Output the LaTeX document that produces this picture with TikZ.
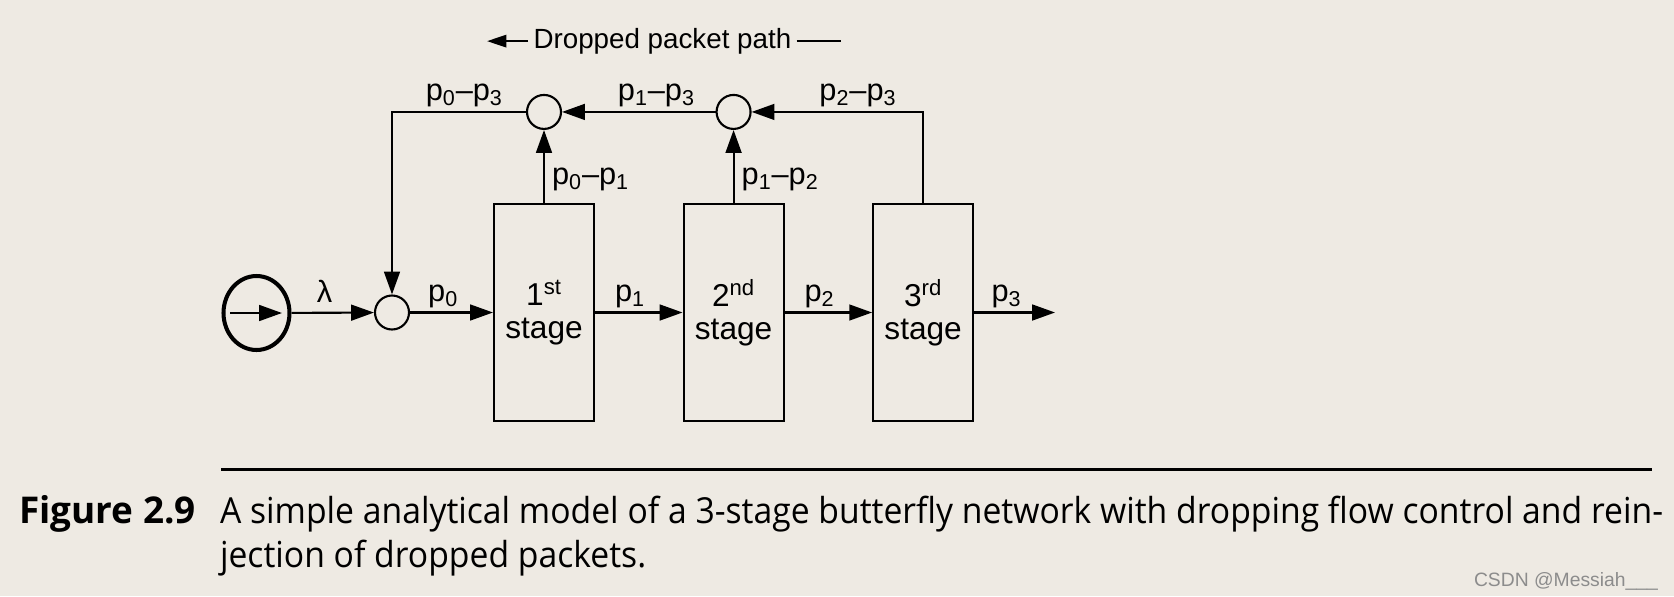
\documentclass[tikz,border=0pt]{standalone}
\usepackage{fontspec}
\setmainfont{Liberation Sans}
\newfontfamily\capfont[FakeStretch=0.94]{Open Sans}
\newfontfamily\figfont{Open Sans}
\usetikzlibrary{arrows.meta,positioning,shapes.geometric}
\definecolor{paper}{RGB}{238,234,227}

\begin{document}
\begin{tikzpicture}[x=0.02cm,y=-0.02cm,line width=1.2pt,
    arr/.style={-{Triangle[length=13pt,width=9pt]}},
    smallarr/.style={-{Triangle[length=11pt,width=7pt]}},
    stagebox/.style={draw,rectangle,minimum width=2cm,minimum height=4.34cm,
      align=center,inner sep=0pt,font=\fontsize{18}{19}\selectfont},
    junc/.style={draw,circle,minimum size=0.68cm,inner sep=0pt},
    lbl/.style={inner sep=2pt,font=\fontsize{17.5}{19}\selectfont}]
\useasboundingbox[fill=paper] (0,0) rectangle (1674,596);

% source and merging point
  \node[draw,ellipse,line width=2.3pt,minimum width=1.32cm,
        minimum height=1.48cm,inner sep=0pt]  (src) at (256.5,313) {};
  \draw[arr] ([xshift=-0.53cm]src.center) -- ([xshift=0.51cm]src.center);
  \node[junc]      (j0) at (392,312.5)        {};

% the three stages
  \node[stagebox]  (s1) at (544,312.5)        {1\textsuperscript{st}\\stage};
  \node[stagebox]  (s2) [right=1.75cm of s1]  {2\textsuperscript{nd}\\stage};
  \node[stagebox]  (s3) [right=1.75cm of s2]  {3\textsuperscript{rd}\\stage};
  \coordinate      (out) at (1055,312.5);

% merging points of the dropped packets
  \node[junc]      (j1) [above=1.46cm of s1]  {};
  \node[junc]      (j2) [above=1.46cm of s2]  {};

% packets going forward
  \draw[arr] (src) -- node[lbl,above=3pt,pos=0.4] (lam) {λ} (j0);
  \draw[arr] (j0) -- node[lbl,above,pos=0.4] (lp0) {p\textsubscript{0}} (s1);
  \draw[arr] (s1) -- node[lbl,above,pos=0.4] (lp1) {p\textsubscript{1}} (s2);
  \draw[arr] (s2) -- node[lbl,above,pos=0.4] (lp2) {p\textsubscript{2}} (s3);
  \draw[arr] (s3) -- node[lbl,above,pos=0.4] (lp3) {p\textsubscript{3}} (out);

% packets dropped and sent back
  \draw[arr] (s1) -- node[lbl,right=2pt,pos=0.32] (l01) {p\textsubscript{0}--p\textsubscript{1}} (j1);
  \draw[arr] (s2) -- node[lbl,right=2pt,pos=0.32] (l12) {p\textsubscript{1}--p\textsubscript{2}} (j2);
  \draw[arr] (s3.north) |- node[lbl,above,pos=0.69] (l23) {p\textsubscript{2}--p\textsubscript{3}} (j2);
  \draw[arr] (j2) -- node[lbl,above,pos=0.385] (l13) {p\textsubscript{1}--p\textsubscript{3}} (j1);
  \draw[arr] (j1) -| node[lbl,above,pos=0.23] (l03) {p\textsubscript{0}--p\textsubscript{3}} (j0);

% legend
  \node[font=\fontsize{15.8}{18}\selectfont,inner sep=2.5pt,anchor=base]
        (dpp) at (662.4,48.3) {Dropped packet path};
  \coordinate (dptip) at (487,41);
  \coordinate (dpend) at (841,41);
  \draw[smallarr] (dpp.west) -- (dptip |- dpp.west);
  \draw (dpp.east) -- (dpend |- dpp.east);

% caption
  \draw[line width=1.7pt] (221,469) -- (1652,469);
  \node[anchor=base west,inner sep=0pt,font=\figfont\bfseries\fontsize{21}{24}\selectfont]
        (fig) at (18,523.3) {Figure 2.9};
  \node[anchor=base west,inner sep=0pt,font=\capfont\fontsize{20.4}{24}\selectfont]
        (cap1) at (219,523.3) {A simple analytical model of a 3-stage butterfly network with dropping flow control and rein-};
  \node[anchor=base west,inner sep=0pt,font=\capfont\fontsize{20.4}{24}\selectfont]
        (cap2) at (219,567.3) {jection of dropped packets.};
  \node[anchor=base east,inner sep=0pt,text=black!45,font=\fontsize{11}{13}\selectfont]
        (wm) at (1659,586) {CSDN @Messiah\_\_\_};
\end{tikzpicture}
\end{document}
